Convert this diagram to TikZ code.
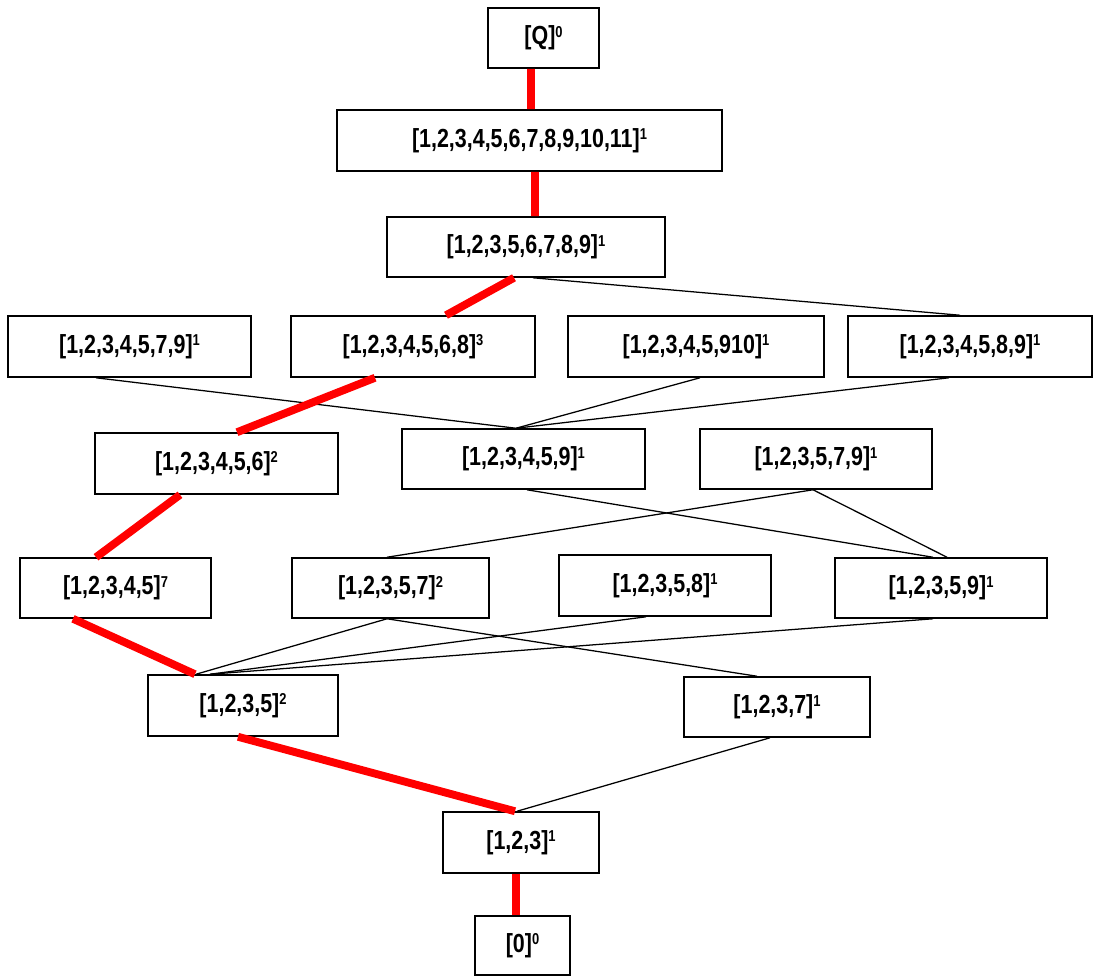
\documentclass[tikz,border=0pt]{standalone}
\usepackage{fontspec}
\newfontfamily\lblfont{Liberation Sans}[FakeStretch=0.82]
% one pixel of the drawing grid
\newcommand\pxl{0.025cm}
% raised count after a set
\newcommand\lv[1]{\raisebox{5.4pt}{\fontsize{11.2}{11}\selectfont #1}}
\begin{document}
\begin{tikzpicture}[x=0.025cm,y=-0.025cm,
  box/.style={draw,line width=1.1pt,inner sep=0pt,
    font=\lblfont\bfseries\fontsize{18.6}{20}\selectfont},
  bx/.style 2 args={minimum width=#1*\pxl,minimum height=#2*\pxl},
  link/.style={line width=0.9pt},
  hot/.style={red,line width=5.6pt}]
\useasboundingbox (0,0) rectangle (1093,976);

% sets
\node[box,bx={111}{60}] (q)   at (543.5,38)    {[Q]\lv{0}};
\node[box,bx={385}{61}] (all) at (529.5,140.5) {[1,2,3,4,5,6,7,8,9,10,11]\lv{1}};
\node[box,bx={278}{60}] (s8)  at (526,247)     {[1,2,3,5,6,7,8,9]\lv{1}};
\node[box,bx={243}{61}] (a)   at (129.5,346.5) {[1,2,3,4,5,7,9]\lv{1}};
\node[box,bx={244}{61}] (b)   at (413,346.5)   {[1,2,3,4,5,6,8]\lv{3}};
\node[box,bx={256}{61}] (c)   at (696,346.5)   {[1,2,3,4,5,910]\lv{1}};
\node[box,bx={244}{61}] (d)   at (970,346.5)   {[1,2,3,4,5,8,9]\lv{1}};
\node[box,bx={243}{61}] (e)   at (216.5,463.5) {[1,2,3,4,5,6]\lv{2}};
\node[box,bx={243}{60}] (f)   at (523.5,459)   {[1,2,3,4,5,9]\lv{1}};
\node[box,bx={232}{60}] (g)   at (816,459)     {[1,2,3,5,7,9]\lv{1}};
\node[box,bx={191}{60}] (h)   at (115.5,588)   {[1,2,3,4,5]\lv{7}};
\node[box,bx={197}{60}] (i)   at (390.5,588)   {[1,2,3,5,7]\lv{2}};
\node[box,bx={212}{61}] (j)   at (665,585.5)   {[1,2,3,5,8]\lv{1}};
\node[box,bx={212}{60}] (k)   at (941,588)     {[1,2,3,5,9]\lv{1}};
\node[box,bx={190}{61}] (l)   at (243,705.5)   {[1,2,3,5]\lv{2}};
\node[box,bx={186}{60}] (m)   at (777,707)     {[1,2,3,7]\lv{1}};
\node[box,bx={156}{61}] (n)   at (521,842.5)   {[1,2,3]\lv{1}};
\node[box,bx={95}{59}]  (o)   at (522.5,945.5) {[0]\lv{0}};

% ordinary links
\draw[link] ([xshift=7*\pxl]s8.south)   -- ([xshift=-10*\pxl]d.north);
\draw[link] ([xshift=-33.5*\pxl]a.south) -- ([xshift=-7.5*\pxl]f.north);
\draw[link] ([xshift=4*\pxl]c.south)    -- ([xshift=-7.5*\pxl]f.north);
\draw[link] ([xshift=-21*\pxl]d.south)  -- ([xshift=-7.5*\pxl]f.north);
\draw[link] ([xshift=3.5*\pxl]f.south)  -- ([xshift=-8*\pxl]k.north);
\draw[link] ([xshift=-3*\pxl]g.south)   -- ([xshift=6*\pxl]k.north);
\draw[link] ([xshift=-3*\pxl]g.south)   -- ([xshift=-3.5*\pxl]i.north);
\draw[link] ([xshift=-3.5*\pxl]i.south) -- ([xshift=-47*\pxl]l.north);
\draw[link] ([xshift=-3.5*\pxl]i.south) -- ([xshift=-20*\pxl]m.north);
\draw[link] ([xshift=-19*\pxl]j.south)  -- ([xshift=-33*\pxl]l.north);
\draw[link] ([xshift=-8*\pxl]k.south)   -- ([xshift=-33*\pxl]l.north);
\draw[link] ([xshift=-7*\pxl]m.south)   -- ([xshift=-4*\pxl]n.north);

% highlighted chain
\draw[hot] ([xshift=-12.5*\pxl]q.south) -- ([xshift=1.5*\pxl]all.north);
\draw[hot] ([xshift=5.5*\pxl]all.south) -- ([xshift=9*\pxl]s8.north);
\draw[hot] ([xshift=-12*\pxl]s8.south)  -- ([xshift=33*\pxl]b.north);
\draw[hot] ([xshift=-38*\pxl]b.south)   -- ([xshift=20.5*\pxl]e.north);
\draw[hot] ([xshift=-36.5*\pxl]e.south) -- ([xshift=-19.5*\pxl]h.north);
\draw[hot] ([xshift=-42.5*\pxl]h.south) -- ([xshift=-48*\pxl]l.north);
\draw[hot] ([xshift=-5*\pxl]l.south)    -- ([xshift=-6*\pxl]n.north);
\draw[hot] ([xshift=-5*\pxl]n.south)    -- ([xshift=-6.5*\pxl]o.north);
\end{tikzpicture}
\end{document}
